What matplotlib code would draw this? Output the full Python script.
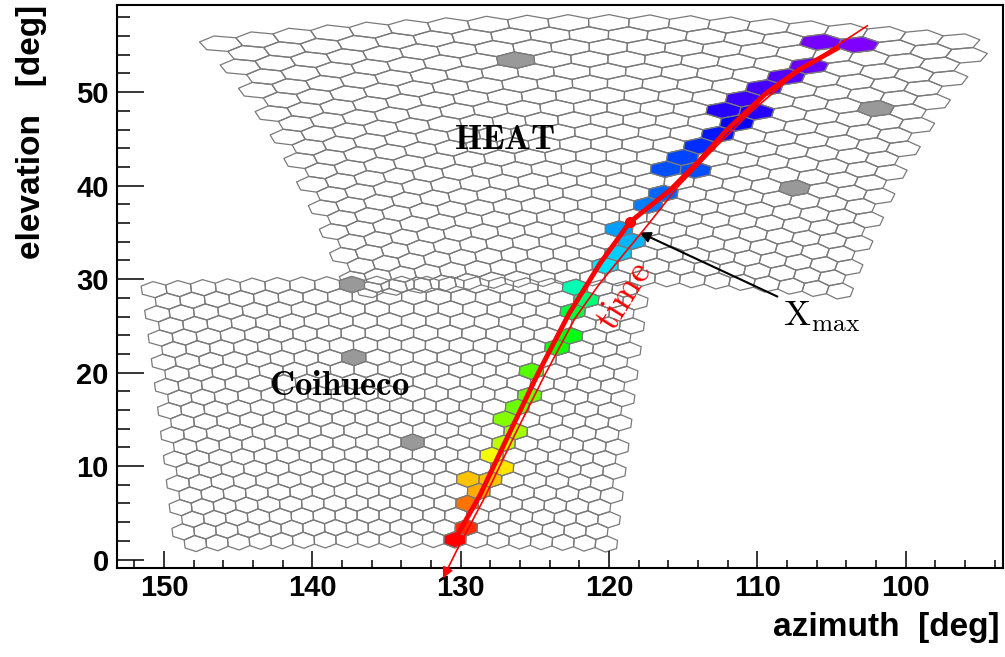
import numpy as np
import matplotlib
matplotlib.use("Agg")
import matplotlib.pyplot as plt
from matplotlib.collections import PolyCollection
from matplotlib import colors

plt.rcParams['font.family'] = ['Liberation Sans', 'DejaVu Sans']
plt.rcParams['mathtext.fontset'] = 'cm'

# camera layout: 22 rows x 20 columns of hexagonal 1.5 deg pixels
n_rows, n_cols = 22, 20
pix_deg = 1.5
# telescope pointing (azimuth, elevation) in deg
cam_point = {"HEAT": (120.7, 43.8), "Coihueco": (134.4, 15.8)}

# pixels without signal (gray)
bad_cam = ["HEAT", "HEAT", "HEAT", "Coihueco", "Coihueco", "Coihueco"]
bad_az = [126.0, 101.8, 107.4, 137.5, 137.5, 133.4]
bad_el = [53.4, 48.1, 39.8, 29.7, 21.8, 12.7]

# triggered pixels, time relative to first pixel (0 .. 100)
hit_cam = ["HEAT"] * 20 + ["Coihueco"] * 20
hit_az = [103.3, 105.3, 106.0, 107.8, 109.2, 110.7, 111.7, 109.9, 111.2, 112.4,
          113.7, 114.8, 115.9, 114.2, 116.1, 117.5, 118.8, 118.0, 119.3, 120.6,
          122.0, 122.5, 123.5, 124.9, 125.2, 126.0, 126.2, 127.2, 126.6, 126.9,
          128.0, 127.4, 129.6, 128.2, 128.9, 129.7, 129.7, 130.5, 123.0, 122.2]
hit_el = [56.0, 55.0, 52.6, 51.4, 50.3, 49.1, 47.8, 47.8, 46.6, 45.4,
          44.1, 42.9, 41.7, 41.7, 39.2, 37.9, 35.6, 34.2, 32.9, 31.3,
          29.0, 26.3, 22.7, 20.6, 19.3, 17.8, 16.5, 15.2, 14.0, 12.7,
          11.5, 10.3, 8.8, 8.8, 7.6, 6.2, 3.8, 2.5, 24.0, 27.6]
hit_time = [0, 1, 2, 4, 5, 6, 8, 8, 11, 13,
            15, 17, 18, 18, 20, 22, 25, 27, 29, 31,
            40, 50, 57, 61, 63, 65, 65, 67, 70, 72,
            77, 80, 83, 83, 85, 90, 96, 100, 54, 45]

# fitted shower track
fit_az = [104.5, 107.2, 109.4, 112.1, 113.9, 115.9, 118.6, 120.6, 122.7, 124.7, 126.7, 128.7, 130.55]
fit_el = [54.8, 52.4, 49.9, 45.9, 42.7, 39.5, 36.1, 31.7, 26.3, 20.2, 13.6, 6.9, 1.7]
# time direction line
arr_az = [102.6, 105.1, 107.8, 110.5, 112.9, 115.3, 117.6, 120.6, 122.3, 124.35, 126.4, 128.4, 130.2, 131.2]
arr_el = [57.1, 54.5, 51.5, 47.8, 44.0, 40.0, 35.4, 29.6, 25.8, 19.7, 13.2, 6.6, 1.2, -2.0]

xmax_az, xmax_el = 118.6, 36.1


def to_sky(u, v, az0, el0):
    u, v, e = np.radians(u), np.radians(v), np.radians(el0)
    x = np.cos(v) * np.cos(u)
    y = np.cos(v) * np.sin(u)
    z = np.sin(v)
    x2 = x * np.cos(e) - z * np.sin(e)
    z2 = x * np.sin(e) + z * np.cos(e)
    return az0 + np.degrees(np.arctan2(y, x2)), np.degrees(np.arcsin(z2))


R = pix_deg / np.sqrt(3)
ang = np.radians(np.arange(6) * 60 + 30)
rows, cols = np.mgrid[0:n_rows, 0:n_cols]
uc = (cols - (n_cols - 1) / 2) * pix_deg + np.where(rows % 2, 0.25, -0.25) * pix_deg
vc = (rows - (n_rows - 1) / 2) * 1.5 * R
uc, vc = uc.ravel(), vc.ravel()

cams = {}
for name, (az0, el0) in cam_point.items():
    ca, ce = to_sky(uc, vc, az0, el0)
    va, ve = to_sky(uc[:, None] + R * np.cos(ang), vc[:, None] + R * np.sin(ang), az0, el0)
    cams[name] = (ca, ce, np.stack([va, ve], axis=-1))


def snap(cam, az, el):
    ca, ce, verts = cams[cam]
    d = ((ca - az) * 1.59) ** 2 + (ce - el) ** 2
    return verts[np.argmin(d)]


fig = plt.figure(figsize=(10.05, 6.57), dpi=100)
ax = fig.add_axes([0.1164, 0.1355, 0.8816, 0.8565])

edge = '#7a7a7a'
for name in ["Coihueco", "HEAT"]:
    ax.add_collection(PolyCollection(cams[name][2], facecolors='none',
                                     edgecolors=edge, linewidths=0.9))

bad_polys = [snap(c, a, e) for c, a, e in zip(bad_cam, bad_az, bad_el)]
ax.add_collection(PolyCollection(bad_polys, facecolors='#999999',
                                 edgecolors=edge, linewidths=0.9))

hit_polys = [snap(c, a, e) for c, a, e in zip(hit_cam, hit_az, hit_el)]
hues = 0.75 * (1 - np.array(hit_time) / 100.0)
hit_cols = colors.hsv_to_rgb(np.stack([hues, np.ones_like(hues), np.ones_like(hues)], axis=1))
ax.add_collection(PolyCollection(hit_polys, facecolors=hit_cols,
                                 edgecolors=edge, linewidths=0.9))

ax.plot(fit_az, fit_el, color='red', lw=3.5, solid_capstyle='butt', zorder=5)
ax.plot(arr_az[:-1], arr_el[:-1], color='red', lw=1.2, zorder=5, clip_on=False)
ax.annotate('', xy=(arr_az[-1], arr_el[-1]), xytext=(arr_az[-2], arr_el[-2]),
            arrowprops=dict(arrowstyle='-|>', color='red', lw=1.2,
                            mutation_scale=16, shrinkA=0, shrinkB=0),
            annotation_clip=False, zorder=6)
ax.plot([xmax_az], [xmax_el], 'o', color='red', ms=7, zorder=6)
ax.annotate(r'$\mathrm{X}_{\mathrm{max}}$', xy=(117.95, 35.0), xytext=(108.3, 25.0),
            fontsize=26, ha='left', va='baseline',
            arrowprops=dict(arrowstyle='-|>', color='black', lw=1.5,
                            mutation_scale=16, shrinkA=2, shrinkB=0,
                            relpos=(0.0, 1.0)))

ax.text(127.05, 44.9, r'$\mathbf{HEAT}$', fontsize=25, ha='center', va='center')
ax.text(138.2, 18.6, r'$\mathbf{Coihueco}$', fontsize=25, ha='center', va='center')
ax.text(119.0, 28.1, r'$\mathrm{time}$', fontsize=27, color='red',
        ha='center', va='center', rotation=58)

ax.set_xlim(153.17, 93.45)
ax.set_ylim(-0.9, 59.3)
ax.set_xticks(np.arange(100, 151, 10))
ax.set_xticks(np.arange(94, 153, 2), minor=True)
ax.set_yticks(np.arange(0, 51, 10))
ax.set_yticks(np.arange(0, 59, 2), minor=True)

for s in ax.spines.values():
    s.set_linewidth(1.5)
ax.tick_params(axis='both', which='both', direction='in', width=1.1,
               top=False, right=False, labelsize=21)
ax.tick_params(axis='x', which='major', length=12.2, pad=4)
ax.tick_params(axis='x', which='minor', length=6)
ax.tick_params(axis='y', which='major', length=19.2, pad=6)
ax.tick_params(axis='y', which='minor', length=9.6)
for lab in ax.get_xticklabels() + ax.get_yticklabels():
    lab.set_fontweight('bold')

ax.set_xlabel('azimuth  [deg]', fontsize=24, fontweight='bold', loc='right')
ax.set_ylabel('elevation   [deg]', fontsize=24, fontweight='bold', loc='top')
ax.xaxis.set_label_coords(0.9966, -0.078)
ax.yaxis.set_label_coords(-0.079, 1.0)

fig.savefig('out.png', dpi=100)
